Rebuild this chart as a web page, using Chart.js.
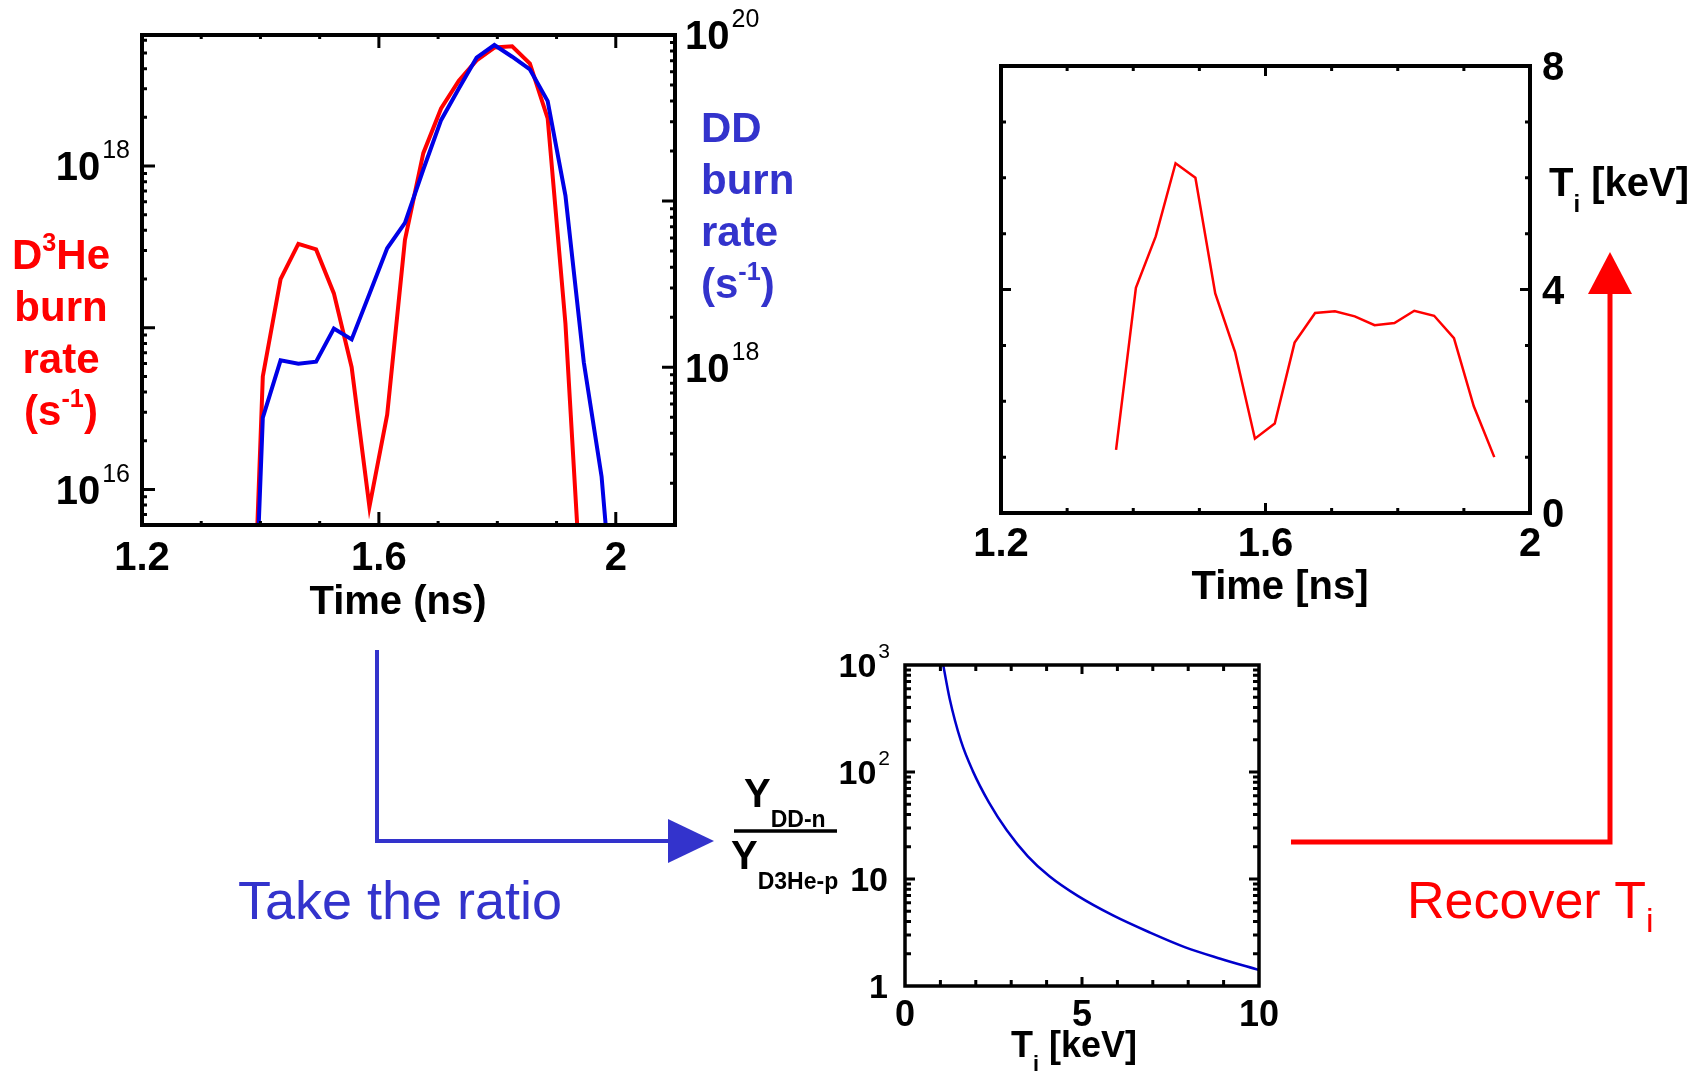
<!DOCTYPE html>
<html>
<head>
<meta charset="utf-8">
<title>Burn rates and ion temperature</title>
<script src="https://cdn.jsdelivr.net/npm/chart.js@4.4.1/dist/chart.umd.min.js"></script>
<style>
  html, body { margin: 0; padding: 0; background: #fff; }
  body { position: relative; width: 1704px; height: 1075px; overflow: hidden;
         font-family: "Liberation Sans", Arial, Helvetica, sans-serif; }
  canvas, svg, .lbl { position: absolute; }
  .lbl { font-weight: bold; white-space: nowrap; color: #000; }
  .c { transform: translateX(-50%); text-align: center; }
  sup { font-size: 0.6em; vertical-align: 0.7em; line-height: 0; }
  sub { font-size: 0.6em; vertical-align: -0.65em; line-height: 0; }
  .red { color: #ff0000; }
  .blue { color: #3333cc; }
</style>
</head>
<body>
<canvas id="rates" width="820" height="640" style="left:0;top:0"></canvas>
<canvas id="temp" width="744" height="640" style="left:960px;top:0"></canvas>
<canvas id="ratio" width="600" height="455" style="left:720px;top:620px"></canvas>

<svg width="1704" height="1075" style="left:0;top:0">
  <polyline points="377,650 377,841 672,841" fill="none" stroke="#3333cc" stroke-width="4"/>
  <polygon points="668,819 714,841 668,863" fill="#3333cc"/>
  <polyline points="1291,842 1610,842 1610,292" fill="none" stroke="#ff0000" stroke-width="5"/>
  <polygon points="1588,294 1610,252 1632,294" fill="#ff0000"/>
  <line x1="734" y1="831" x2="837" y2="831" stroke="#000" stroke-width="3.5"/>
</svg>

<!-- titres des axes -->
<div class="lbl c" style="left:398px;top:580px;font-size:40px;line-height:40px">Time (ns)</div>
<div class="lbl c red" style="left:61px;top:229px;font-size:42px;line-height:52px">D<sup>3</sup>He<br>burn<br>rate<br>(s<sup>-1</sup>)</div>
<div class="lbl blue" style="left:701px;top:102px;font-size:42px;line-height:52px">DD<br>burn<br>rate<br>(s<sup>-1</sup>)</div>
<div class="lbl c" style="left:1280px;top:565px;font-size:40px;line-height:40px">Time [ns]</div>
<div class="lbl" style="left:1549px;top:162px;font-size:40px;line-height:40px">T<sub>i</sub> [keV]</div>
<div class="lbl c" style="left:1074px;top:1027px;font-size:36px;line-height:36px">T<sub>i</sub> [keV]</div>
<div class="lbl" style="left:744px;top:773px;font-size:40px;line-height:40px">Y<sub style="font-size:23px;vertical-align:-20px">DD-n</sub></div>
<div class="lbl" style="left:731px;top:835px;font-size:40px;line-height:40px">Y<sub style="font-size:23px;vertical-align:-20px">D3He-p</sub></div>
<div class="lbl c blue" style="left:400px;top:873px;font-size:54px;line-height:54px;font-weight:normal">Take the ratio</div>
<div class="lbl red" style="left:1407px;top:874px;font-size:52px;line-height:52px;font-weight:normal">Recover T<sub style="font-size:34px;vertical-align:-14px">i</sub></div>

<script>
// temps communs (ns)
const times = [1.374, 1.404, 1.434, 1.464, 1.494, 1.524, 1.554, 1.584, 1.614, 1.644, 1.675,
  1.705, 1.735, 1.765, 1.795, 1.825, 1.855, 1.885, 1.915, 1.946, 1.976, 2.006];

// taux de combustion (s^-1)
const d3heRate = [5e13, 5.0e16, 2.0e17, 3.3e17, 3.05e17, 1.63e17, 5.7e16, 7.8e15, 2.9e16, 3.5e17, 1.2e18,
  2.27e18, 3.37e18, 4.5e18, 5.4e18, 5.5e18, 4.3e18, 1.97e18, 1.06e17, 1.2e15, null, null];
const ddRate = [8e14, 4.97e17, 1.10e18, 1.05e18, 1.08e18, 1.71e18, 1.47e18, 2.76e18, 5.2e18, 7.4e18, 1.55e19,
  3.07e19, 4.76e19, 7.3e19, 8.7e19, 7.4e19, 6.2e19, 4.0e19, 1.08e19, 1.07e18, 2.2e17, 1.2e16];

// temperature ionique (keV)
const ionTemp = [1.13, 4.03, 4.95, 6.26, 6.0, 3.93, 2.88, 1.33, 1.60, 3.05, 3.58,
  3.61, 3.52, 3.36, 3.40, 3.62, 3.53, 3.13, 1.91, 1.0, null, null];

// rapport des rendements en fonction de Ti
const tiGrid = [1.08, 1.26, 1.58, 1.91, 2.37, 2.87, 3.47, 4.08, 4.88, 5.89, 6.9, 7.9, 8.91, 10];
const yieldRatio = [1000, 487, 195, 103, 52, 28.7, 16.3, 10.6, 6.95, 4.54, 3.18, 2.31, 1.80, 1.41];

// etiquettes des graduations
const rateTimeLabels = [1.2, 1.6, 2];
const d3heExpLabels = [16, 18];
const ddExpLabels = [18, 20];
const tempTimeLabels = [1.2, 1.6, 2];
const tempLabels = [0, 4, 8];
const tiLabels = [0, 5, 10];
const ratioLabels = [1, 10, 100, 1000];

const FONT = '"Liberation Sans", Arial, Helvetica, sans-serif';

// petites fonctions de dessin
const logMinors = (lo, hi) => {
  const out = [];
  for (let e = Math.floor(Math.log10(lo)); e <= Math.ceil(Math.log10(hi)); e++) {
    for (let m = 2; m <= 9; m++) {
      const v = m * Math.pow(10, e);
      if (v > lo && v < hi) out.push(v);
    }
  }
  return out;
};

const steps = (from, to, step) => {
  const out = [];
  for (let v = from; v <= to + 1e-9; v += step) out.push(Math.round(v * 1000) / 1000);
  return out;
};

const frame = (chart, lw) => {
  const { ctx, chartArea: a } = chart;
  ctx.save();
  ctx.strokeStyle = '#000';
  ctx.lineWidth = lw;
  ctx.strokeRect(a.left, a.top, a.right - a.left, a.bottom - a.top);
  ctx.restore();
};

const ticksX = (chart, id, vals, len, lw) => {
  const { ctx, chartArea: a } = chart;
  const s = chart.scales[id];
  ctx.save();
  ctx.strokeStyle = '#000';
  ctx.lineWidth = lw;
  ctx.beginPath();
  vals.forEach((v) => {
    const x = s.getPixelForValue(v);
    ctx.moveTo(x, a.bottom); ctx.lineTo(x, a.bottom - len);
    ctx.moveTo(x, a.top); ctx.lineTo(x, a.top + len);
  });
  ctx.stroke();
  ctx.restore();
};

const ticksY = (chart, id, vals, len, lw, side) => {
  const { ctx, chartArea: a } = chart;
  const s = chart.scales[id];
  const x0 = side === 'left' ? a.left : a.right;
  const dir = side === 'left' ? 1 : -1;
  ctx.save();
  ctx.strokeStyle = '#000';
  ctx.lineWidth = lw;
  ctx.beginPath();
  vals.forEach((v) => {
    const y = s.getPixelForValue(v);
    ctx.moveTo(x0, y); ctx.lineTo(x0 + dir * len, y);
  });
  ctx.stroke();
  ctx.restore();
};

const label = (ctx, str, x, y, size, align) => {
  ctx.save();
  ctx.font = `bold ${size}px ${FONT}`;
  ctx.fillStyle = '#000';
  ctx.textAlign = align;
  ctx.textBaseline = 'alphabetic';
  ctx.fillText(str, x, y + size * 0.358);
  ctx.restore();
};

// "10" avec exposant
const powLabel = (ctx, exp, x, y, size, align) => {
  const es = Math.round(size * 0.62);
  ctx.save();
  ctx.font = `bold ${size}px ${FONT}`;
  const w1 = ctx.measureText('10').width;
  ctx.font = `${es}px ${FONT}`;
  const w2 = ctx.measureText(String(exp)).width;
  const gap = 2;
  const x0 = align === 'right' ? x - w1 - gap - w2 : x;
  const base = y + size * 0.358;
  ctx.fillStyle = '#000';
  ctx.textAlign = 'left';
  ctx.textBaseline = 'alphabetic';
  ctx.font = `bold ${size}px ${FONT}`;
  ctx.fillText('10', x0, base);
  ctx.font = `${es}px ${FONT}`;
  ctx.fillText(String(exp), x0 + w1 + gap, base - size * 0.55);
  ctx.restore();
};

const common = {
  responsive: false,
  animation: false,
  plugins: { legend: { display: false }, tooltip: { enabled: false } },
  elements: { point: { radius: 0 }, line: { tension: 0 } },
};

// Graphique 1 : taux de combustion
const rateAxes = {
  id: 'rateAxes',
  afterDraw(chart) {
    const ctx = chart.ctx;
    const sx = chart.scales.x, sy = chart.scales.y, sy2 = chart.scales.y2;
    frame(chart, 4);
    const tx = steps(1.3, 2.0, 0.1);
    ticksX(chart, 'x', tx.filter((v) => v !== 1.6 && v !== 2), 4, 3);
    ticksX(chart, 'x', [1.6, 2], 13, 3);
    ticksY(chart, 'y', logMinors(sy.min, sy.max), 5, 3, 'left');
    ticksY(chart, 'y', [1e16, 1e17, 1e18], 13, 3, 'left');
    ticksY(chart, 'y2', logMinors(sy2.min, sy2.max), 5, 3, 'right');
    ticksY(chart, 'y2', [1e18, 1e19], 13, 3, 'right');
    rateTimeLabels.forEach((v) => label(ctx, String(v), sx.getPixelForValue(v), 556, 40, 'center'));
    d3heExpLabels.forEach((e) => powLabel(ctx, e, 130, sy.getPixelForValue(Math.pow(10, e)), 40, 'right'));
    ddExpLabels.forEach((e) => powLabel(ctx, e, 685, sy2.getPixelForValue(Math.pow(10, e)), 40, 'left'));
  },
};

new Chart(document.getElementById('rates'), {
  type: 'line',
  data: {
    datasets: [
      {
        label: 'DD burn rate',
        data: times.map((t, i) => ({ x: t, y: ddRate[i] })),
        yAxisID: 'y2',
        borderColor: '#0000e6',
        borderWidth: 4,
      },
      {
        label: 'D3He burn rate',
        data: times.map((t, i) => ({ x: t, y: d3heRate[i] })),
        yAxisID: 'y',
        borderColor: '#ff0000',
        borderWidth: 4,
      },
    ],
  },
  options: {
    ...common,
    layout: { padding: { left: 142, top: 35, right: 145, bottom: 115 } },
    scales: {
      x: { type: 'linear', display: false, min: 1.2, max: 2.1 },
      y: { type: 'logarithmic', display: false, min: Math.pow(10, 15.78), max: Math.pow(10, 18.81) },
      y2: { type: 'logarithmic', display: false, position: 'right', min: Math.pow(10, 17.05), max: 1e20 },
    },
  },
  plugins: [rateAxes],
});

// Graphique 2 : Ti en fonction du temps
const tempAxes = {
  id: 'tempAxes',
  afterDraw(chart) {
    const ctx = chart.ctx;
    const sx = chart.scales.x, sy = chart.scales.y;
    frame(chart, 4);
    ticksX(chart, 'x', [1.3, 1.4, 1.5, 1.7, 1.8, 1.9], 5, 3);
    ticksX(chart, 'x', [1.6], 10, 3);
    ticksY(chart, 'y', [1, 2, 3, 5, 6, 7], 5, 3, 'left');
    ticksY(chart, 'y', [1, 2, 3, 5, 6, 7], 5, 3, 'right');
    ticksY(chart, 'y', [4], 10, 3, 'left');
    ticksY(chart, 'y', [4], 10, 3, 'right');
    tempTimeLabels.forEach((v) => label(ctx, String(v), sx.getPixelForValue(v), 542, 40, 'center'));
    tempLabels.forEach((v) => label(ctx, String(v), 582, sy.getPixelForValue(v), 40, 'left'));
  },
};

new Chart(document.getElementById('temp'), {
  type: 'line',
  data: {
    datasets: [
      {
        label: 'Ti',
        data: times.map((t, i) => ({ x: t, y: ionTemp[i] })),
        borderColor: '#ff0000',
        borderWidth: 2.5,
      },
    ],
  },
  options: {
    ...common,
    layout: { padding: { left: 41, top: 66, right: 174, bottom: 127 } },
    scales: {
      x: { type: 'linear', display: false, min: 1.2, max: 2.0 },
      y: { type: 'linear', display: false, min: 0, max: 8 },
    },
  },
  plugins: [tempAxes],
});

// Graphique 3 : rapport YDD / YD3He
const ratioAxes = {
  id: 'ratioAxes',
  afterDraw(chart) {
    const ctx = chart.ctx;
    const sx = chart.scales.x, sy = chart.scales.y;
    frame(chart, 3.5);
    ticksX(chart, 'x', [1, 2, 3, 4, 6, 7, 8, 9], 6, 3);
    ticksX(chart, 'x', [5], 9, 3);
    ticksY(chart, 'y', logMinors(1, 1000), 6, 3, 'left');
    ticksY(chart, 'y', logMinors(1, 1000), 6, 3, 'right');
    ticksY(chart, 'y', [10, 100], 10, 3, 'left');
    ticksY(chart, 'y', [10, 100], 10, 3, 'right');
    tiLabels.forEach((v) => label(ctx, String(v), sx.getPixelForValue(v), 393, 36, 'center'));
    ratioLabels.forEach((v) => {
      const y = sy.getPixelForValue(v);
      if (v >= 100) powLabel(ctx, Math.round(Math.log10(v)), 170, y, 34, 'right');
      else label(ctx, String(v), 168, y, 34, 'right');
    });
  },
};

new Chart(document.getElementById('ratio'), {
  type: 'line',
  data: {
    datasets: [
      {
        label: 'YDD-n / YD3He-p',
        data: tiGrid.map((t, i) => ({ x: t, y: yieldRatio[i] })),
        borderColor: '#0000cc',
        borderWidth: 2.5,
        cubicInterpolationMode: 'monotone',
      },
    ],
  },
  options: {
    ...common,
    layout: { padding: { left: 185, top: 45, right: 61, bottom: 89 } },
    scales: {
      x: { type: 'linear', display: false, min: 0, max: 10 },
      y: { type: 'logarithmic', display: false, min: 1, max: 1000 },
    },
  },
  plugins: [ratioAxes],
});
</script>
</body>
</html>
